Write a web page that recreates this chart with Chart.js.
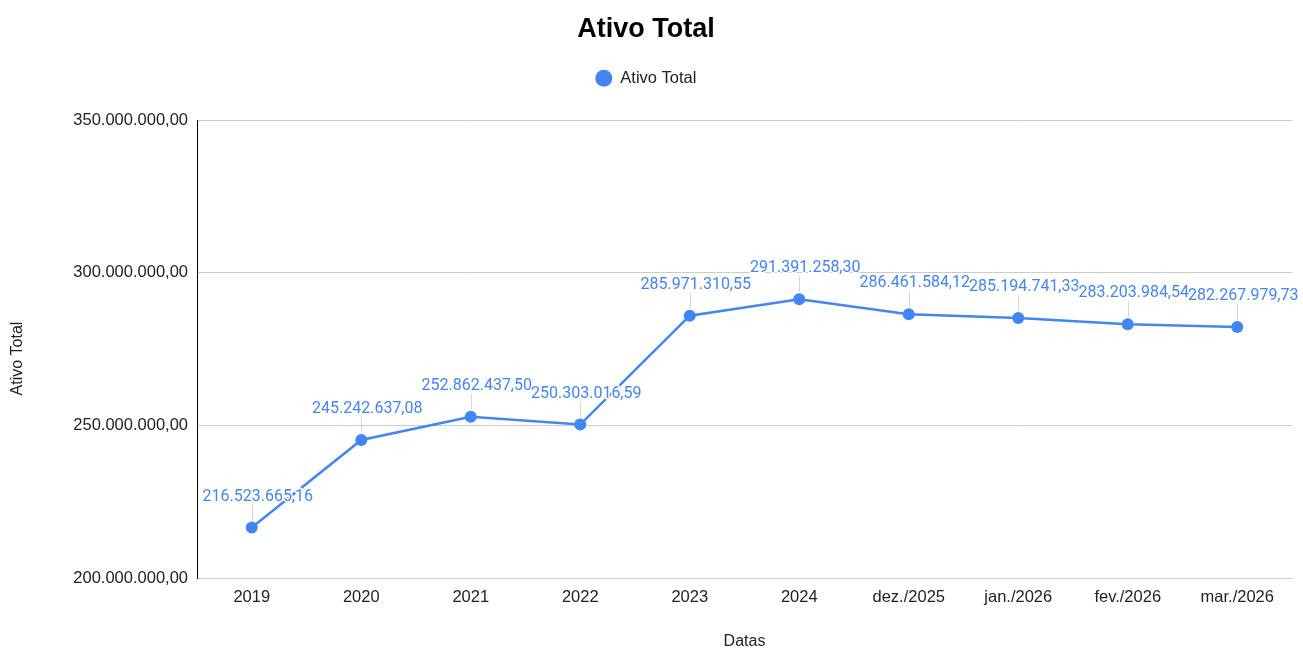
<!DOCTYPE html>
<html>
<head>
<meta charset="utf-8">
<script src="https://cdn.jsdelivr.net/npm/chart.js@4/dist/chart.umd.min.js"></script>
<style>
html,body{margin:0;padding:0;background:#fff;}
#wrap{width:1303px;height:649px;position:relative;}
</style>
</head>
<body>
<div id="wrap"><canvas id="c"></canvas></div>
<script>
const categories = ['2019','2020','2021','2022','2023','2024','dez./2025','jan./2026','fev./2026','mar./2026'];
const ativoTotal = [216523665.16, 245242637.08, 252862437.50, 250303016.59, 285971310.55, 291391258.30, 286461584.12, 285194741.33, 283203984.54, 282267979.73];
const yTicks = [200000000, 250000000, 300000000, 350000000];
const seriesName = 'Ativo Total';
const chartTitle = 'Ativo Total';
const xTitle = 'Datas';
const yTitle = 'Ativo Total';

const BLUE = '#4285F4';
const SANS = 'Arial, "Liberation Sans", sans-serif';

function fmt(v){
  const parts = v.toFixed(2).split('.');
  return parts[0].replace(/\B(?=(\d{3})+(?!\d))/g, '.') + ',' + parts[1];
}

const legendSpacer = {
  id: 'legendSpacer',
  afterInit(chart){
    const lg = chart.legend;
    if (lg && !lg._wrapped){
      const orig = lg.fit;
      lg.fit = function(){ orig.call(this); this.height += 24; };
      lg._wrapped = true;
    }
  }
};

const yAxisTitle = {
  id: 'yAxisTitle',
  afterDraw(chart){
    const ctx = chart.ctx;
    ctx.save();
    ctx.translate(18, 358.5);
    ctx.rotate(-Math.PI / 2);
    ctx.font = '16px ' + SANS;
    ctx.fillStyle = '#222';
    ctx.textAlign = 'center';
    ctx.textBaseline = 'middle';
    ctx.fillText(yTitle, 0, 0);
    ctx.restore();
  }
};

const dataLabels = {
  id: 'dataLabels',
  afterDatasetsDraw(chart){
    const ctx = chart.ctx;
    const meta = chart.getDatasetMeta(0);
    const ds = chart.data.datasets[0];
    ctx.save();
    meta.data.forEach((pt) => {
      ctx.strokeStyle = '#d6d6d6';
      ctx.lineWidth = 1;
      ctx.beginPath();
      ctx.moveTo(Math.round(pt.x) + 0.5, pt.y - 7);
      ctx.lineTo(Math.round(pt.x) + 0.5, pt.y - 23);
      ctx.stroke();
    });
    ctx.font = '16px Roboto, "Liberation Sans", sans-serif';
    ctx.textAlign = 'center';
    ctx.textBaseline = 'middle';
    meta.data.forEach((pt, i) => {
      const t = fmt(ds.data[i]);
      const x = pt.x + 6, y = pt.y - 31;
      ctx.lineJoin = 'round';
      ctx.strokeStyle = '#ffffff';
      ctx.lineWidth = 3;
      ctx.strokeText(t, x, y);
      ctx.fillStyle = BLUE;
      ctx.fillText(t, x, y);
    });
    ctx.restore();
  }
};

new Chart(document.getElementById('c'), {
  type: 'line',
  data: {
    labels: categories,
    datasets: [{
      label: seriesName,
      data: ativoTotal,
      borderColor: BLUE,
      backgroundColor: BLUE,
      borderWidth: 2.5,
      pointRadius: 6,
      pointHoverRadius: 6,
      pointBackgroundColor: BLUE,
      pointBorderColor: BLUE,
      pointBorderWidth: 0,
      pointStyle: 'circle',
      tension: 0,
      fill: false
    }]
  },
  options: {
    responsive: true,
    maintainAspectRatio: false,
    animation: false,
    layout: { padding: { left: 0, right: 11, top: 0, bottom: 0 } },
    plugins: {
      title: {
        display: true,
        text: chartTitle,
        color: '#000',
        font: { family: SANS, size: 27, weight: 'bold' },
        padding: { top: 13.5, bottom: 14 }
      },
      legend: {
        display: true,
        position: 'top',
        labels: {
          usePointStyle: true,
          pointStyle: 'circle',
          boxWidth: 16.5,
          boxHeight: 12,
          color: '#222',
          font: { family: SANS, size: 16.5 },
          padding: 10
        }
      },
      tooltip: { enabled: false }
    },
    scales: {
      x: {
        offset: true,
        grid: { display: false, drawTicks: false },
        border: { display: true, color: '#cccccc', width: 1 },
        ticks: { color: '#222', font: { family: SANS, size: 16.5 }, padding: 10, maxRotation: 0, autoSkip: false },
        title: { display: true, text: xTitle, color: '#222', font: { family: SANS, size: 16 }, padding: { top: 0, bottom: -2 } },
        afterFit(scale){ scale.height = 71; }
      },
      y: {
        min: 200000000,
        max: 350000000,
        afterBuildTicks(scale){ scale.ticks = yTicks.map(v => ({ value: v })); },
        grid: { color: '#cccccc', lineWidth: 1, drawTicks: false },
        border: { display: true, color: '#000000', width: 1 },
        ticks: { color: '#222', font: { family: SANS, size: 16.5 }, padding: 9, callback: (v) => fmt(v) },
        title: { display: false },
        afterFit(scale){ scale.width = 197; }
      }
    }
  },
  plugins: [legendSpacer, yAxisTitle, dataLabels]
});
</script>
</body>
</html>
